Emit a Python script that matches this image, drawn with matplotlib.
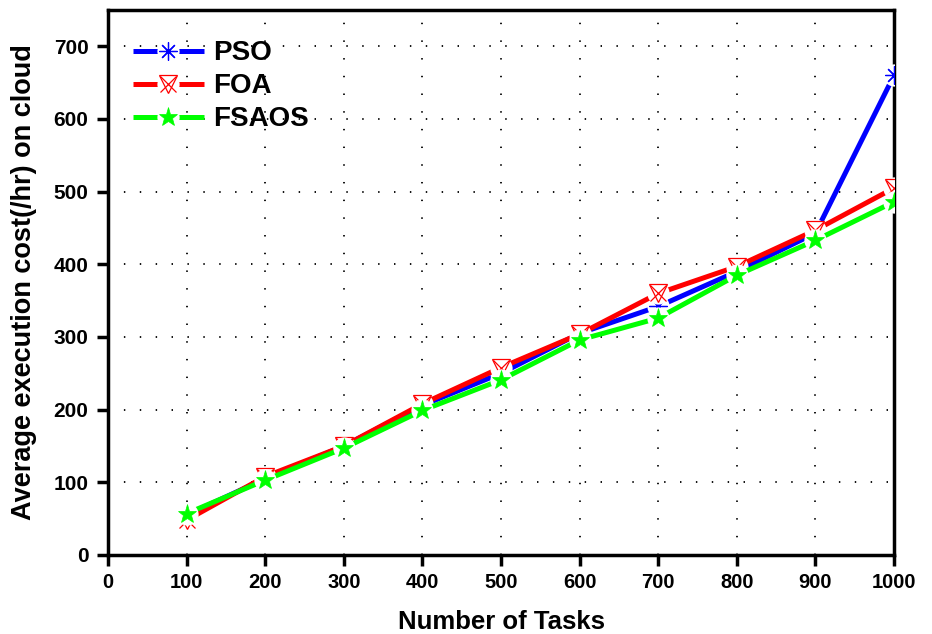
import matplotlib
matplotlib.use("Agg")
import matplotlib.pyplot as plt
from matplotlib.legend_handler import HandlerTuple

tasks = [100, 200, 300, 400, 500, 600, 700, 800, 900, 1000]
pso = [55, 105, 150, 206, 250, 305, 342, 390, 443, 660]
foa = [48, 108, 150, 208, 258, 304, 360, 397, 447, 505]
fsaos = [57, 103, 147, 199, 241, 296, 326, 385, 433, 486]
series_names = ["PSO", "FOA", "FSAOS"]
xticks = [0, 100, 200, 300, 400, 500, 600, 700, 800, 900, 1000]
yticks = [0, 100, 200, 300, 400, 500, 600, 700]

fig = plt.figure(figsize=(9.32, 6.34), dpi=100)
ax = fig.add_axes([108/932, 1-555/634, (894-108)/932, (555-10)/634])

lw = 3.6
styles = [
    dict(color="#0000FF", markers=[dict(marker=(8, 2, 0), ms=13, mew=0.9, mfc="none")]),
    dict(color="#FF0000", markers=[dict(marker="v", ms=13, mew=0.9, mfc="none"),
                                    dict(marker="x", ms=11, mew=0.9, mfc="none")]),
    dict(color="#00FF00", markers=[dict(marker="*", ms=14, mew=0.5, mfc="#00FF00")]),
]
handles = []
for i, (name, vals, st) in enumerate(zip(series_names, [pso, foa, fsaos], styles)):
    z = 3 + i * 3
    ln, = ax.plot(tasks, vals, color=st["color"], lw=lw, solid_capstyle="butt", zorder=z)
    halo, = ax.plot(tasks, vals, ls="none", marker="o", ms=16, mfc="white", mec="none", zorder=z + 1)
    parts = [ln, halo]
    for m in st["markers"]:
        mk, = ax.plot(tasks, vals, ls="none", color=st["color"], marker=m["marker"], ms=m["ms"],
                      mew=m["mew"], mfc=m["mfc"], mec=st["color"], zorder=z + 2)
        parts.append(mk)
    handles.append(tuple(parts))

ax.set_xlim(0, 1000)
ax.set_ylim(0, 750)
ax.set_xticks(xticks)
ax.set_yticks(yticks)

for v in xticks[1:]:
    ax.axvline(v, color="black", lw=1.3, ls=(0, (0.8, 9)), zorder=1)
for v in yticks[1:]:
    ax.axhline(v, color="black", lw=1.3, ls=(0, (0.8, 8)), zorder=1)

for s in ax.spines.values():
    s.set_linewidth(2.5)
ax.tick_params(direction="out", length=8, width=2.5, pad=4)

sans = ["Liberation Sans", "DejaVu Sans"]
for lab in ax.get_xticklabels():
    lab.set_fontfamily(sans)
    lab.set_fontweight("bold")
    lab.set_fontsize(14.5)
for lab in ax.get_yticklabels():
    lab.set_fontfamily(sans)
    lab.set_fontweight("bold")
    lab.set_fontsize(15)
ax.tick_params(axis="x", pad=5)
ax.tick_params(axis="y", pad=6)

ax.set_xlabel("Number of Tasks", fontfamily=sans, fontweight="bold", fontsize=18.5, labelpad=13)
ax.set_ylabel("Average execution cost(/hr) on cloud", fontfamily=sans, fontweight="bold", fontsize=19.5, labelpad=12)

leg = ax.legend(handles, series_names, handler_map={tuple: HandlerTuple(ndivide=1, pad=0)},
                loc="upper left", bbox_to_anchor=(0.0, 0.99), frameon=False,
                prop=dict(family=sans, weight="bold", size=20), handlelength=2.55,
                handletextpad=0.35, labelspacing=0.25)

fig.savefig("out.png", dpi=100)
